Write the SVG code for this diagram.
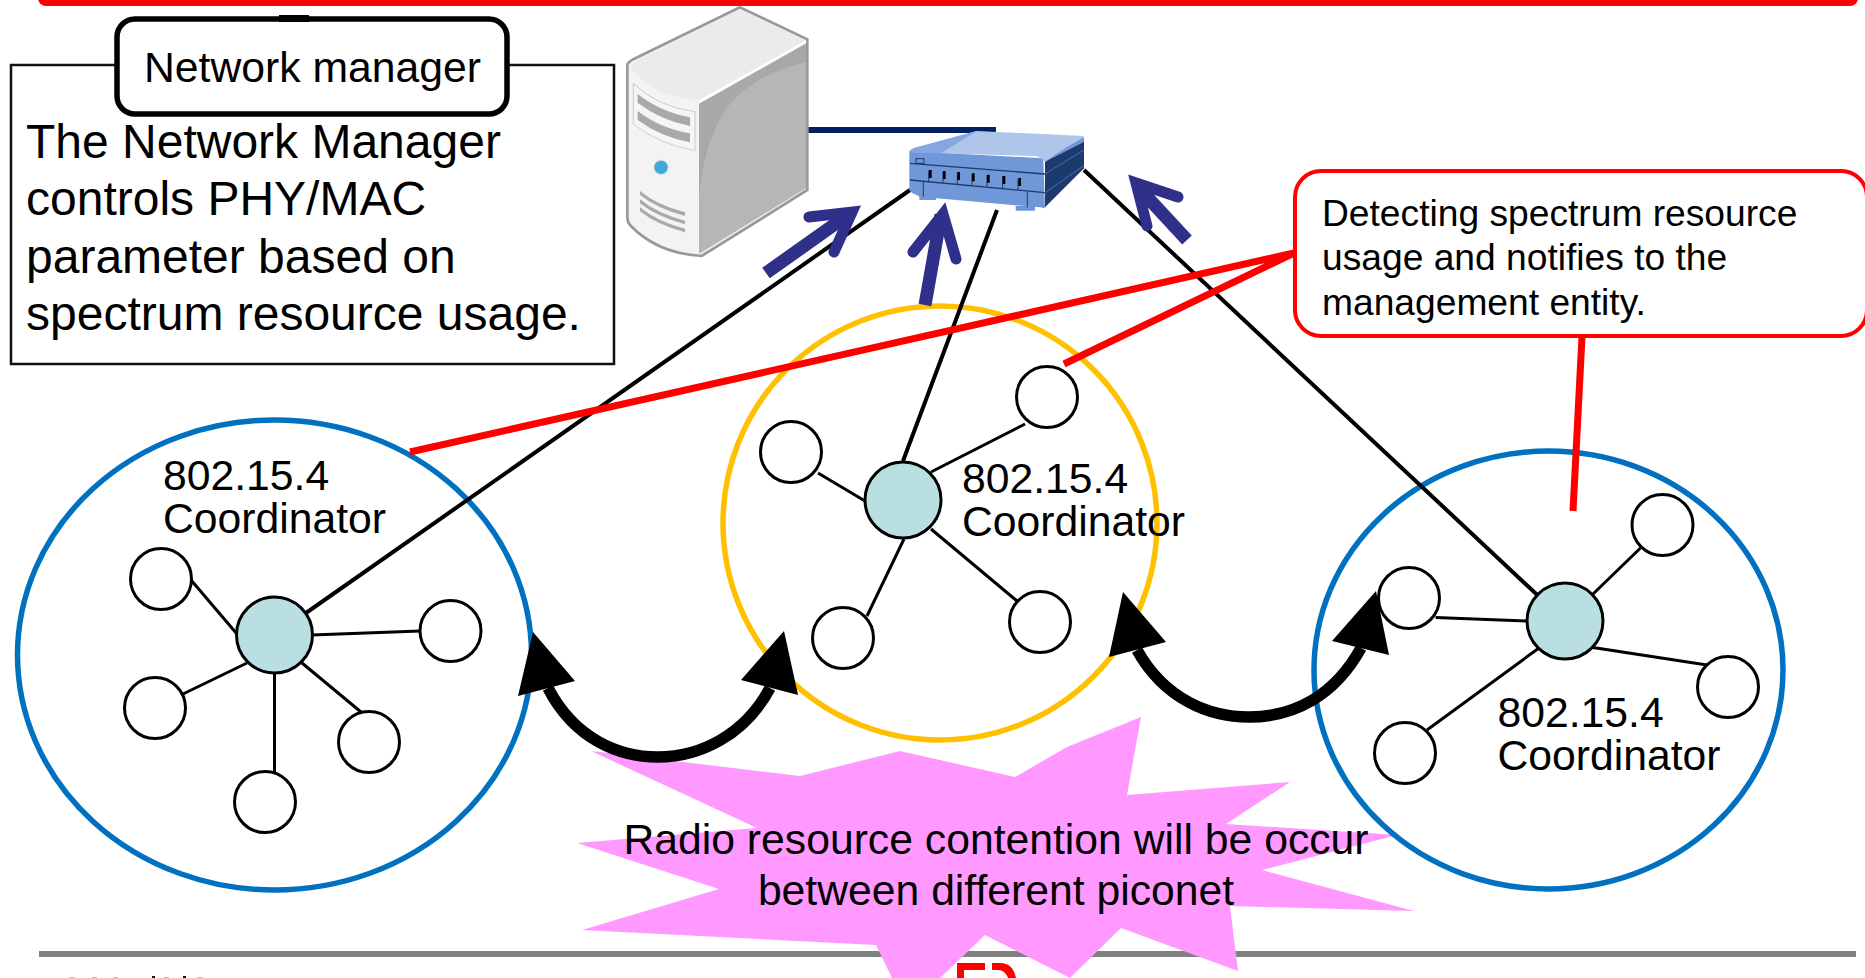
<svg xmlns="http://www.w3.org/2000/svg" width="1865" height="978" viewBox="0 0 1865 978">
<defs>
<style>
text{font-family:"Liberation Sans",Arial,sans-serif;fill:#000}
.coord{font-size:42.7px}
.cov{fill:none;stroke-width:5.500}
.leaf{fill:#fff;stroke:#000;stroke-width:3}
.hub{fill:#b9dfe2;stroke:#000;stroke-width:3}
.link{stroke:#000;stroke-width:3;fill:none}
.uplink{stroke:#000;stroke-width:4;fill:none}
.red{stroke:#f00;stroke-width:7;fill:none}
.shaft{stroke:#2e3089;stroke-width:13;fill:none}
.barb{stroke:#2e3089;stroke-width:11;fill:none;stroke-linecap:round;stroke-linejoin:miter}
.curve{stroke:#000;stroke-width:11.500;fill:none}
.head{fill:#000}
</style>
</defs>
<rect width="1865" height="978" fill="#fff"/>
<g id="frame">
<rect x="41" y="-30" width="1814" height="33" rx="5" fill="none" stroke="#f00" stroke-width="6"/>
<rect x="39" y="951" width="1817" height="6" fill="#808080"/>
<path d="M70 977h5v1h-5zM92 977h5v1h-5zM113 977h5v1h-5zM164 977h5v1h-5zM198 977h5v1h-5z" fill="#bbb"/>
<path d="M152 976h3v2h-3zM183 976h3v2h-3z" fill="#111"/>
<path d="M957 978V963H985V970H964V978ZM992 963H1000Q1013 963 1016 978H1008Q1005 970 998 970H992Z" fill="#f00"/>
</g>
<g id="contention">
<polygon points="591,751 800,776 900,751 1015,777 1067,747 1141,717 1127,795 1290,782 1226,824 1397,835 1262,870 1414,911 1230,906 1238,971 1121,928 1070,978 985,935 940,978 892,978 876,945 582,930 719,889 577,843 757,828" fill="#ff99ff"/>
<text x="996" y="854" font-size="42.7" text-anchor="middle">Radio resource contention will be occur</text>
<text x="996" y="905" font-size="42.7" text-anchor="middle">between different piconet</text>
</g>
<g id="network-manager">
<rect x="11" y="65" width="603" height="299" fill="#fff" stroke="#111" stroke-width="2.500"/>
<rect x="117" y="19" width="390" height="95" rx="18" fill="#fff" stroke="#000" stroke-width="5.500"/>
<rect x="279" y="15" width="30" height="7" fill="#000"/>
<text x="144" y="82" font-size="42.7">Network manager</text>
<text x="26" y="158" font-size="48">The Network Manager</text>
<text x="26" y="215" font-size="48">controls PHY/MAC</text>
<text x="26" y="273" font-size="48">parameter based on</text>
<text x="26" y="330" font-size="48">spectrum resource usage.</text>
</g>
<g id="coverage">
<ellipse class="cov" cx="274.500" cy="655" rx="257" ry="235" stroke="#0070c0"/>
<ellipse class="cov" cx="940" cy="523" rx="217" ry="217" stroke="#ffc000"/>
<ellipse class="cov" cx="1548.500" cy="670" rx="234.500" ry="219" stroke="#0070c0"/>
</g>
<g id="connectors">
<path class="uplink" d="M274.500 635 910 190M903 461 997 210M1565 621 1084 170"/>
<path class="link" d="M191 580 237 634M183 694 247 663M312 635 420 631M302 663 361 712M274.500 673V773"/>
<path class="link" d="M818 473 865 501M1025 424 931 472M867 616 904 539M1017 601 931 529"/>
<path class="link" d="M1640.500 548 1593 594M1435.600 617.500 1527 621M1427 730 1539 648M1707 665 1593 647.600"/>
<path d="M808 130H996" stroke="#002060" stroke-width="6" fill="none"/>
<path class="red" d="M410 452 1294 253 1064 364M1582 337 1573 511"/>
<path class="shaft" d="M766 273 845 217M925 305 941 215M1187 240 1137 186"/>
<path class="barb" d="M809 217 852 212 834 252M913 252 943 214 956 259M1178 197 1136 183 1147 226"/>
<path class="curve" d="M548 688C575 740 620 757 658 757C700 757 745 735 770 688"/>
<polygon class="head" points="533,632 518,696 575,681"/>
<polygon class="head" points="784,631 741,680 798,695"/>
<path class="curve" d="M1137 650C1165 700 1210 717 1249 717C1295 717 1335 695 1361 648"/>
<polygon class="head" points="1123,592 1109,657 1166,642"/>
<polygon class="head" points="1376,591 1332,641 1389,655"/>
</g>
<g id="left-piconet">
<circle class="leaf" cx="161" cy="579" r="30.500"/><circle class="leaf" cx="155" cy="708" r="30.500"/><circle class="leaf" cx="450.500" cy="631" r="30.500"/><circle class="leaf" cx="369" cy="742" r="30.500"/><circle class="leaf" cx="265" cy="802" r="30.500"/>
<circle class="hub" cx="274.500" cy="635" r="38"/>
<text class="coord" x="163" y="490">802.15.4</text><text class="coord" x="163" y="533">Coordinator</text>
</g>
<g id="middle-piconet">
<circle class="leaf" cx="791" cy="452" r="30.500"/><circle class="leaf" cx="1047" cy="397" r="30.500"/><circle class="leaf" cx="843" cy="638" r="30.500"/><circle class="leaf" cx="1040" cy="622" r="30.500"/>
<circle class="hub" cx="903" cy="500" r="38"/>
<text class="coord" x="962" y="493">802.15.4</text><text class="coord" x="962" y="536">Coordinator</text>
</g>
<g id="right-piconet">
<circle class="leaf" cx="1662.500" cy="525" r="30.500"/><circle class="leaf" cx="1409" cy="598" r="30.500"/><circle class="leaf" cx="1405" cy="753" r="30.500"/><circle class="leaf" cx="1728" cy="687" r="30.500"/>
<circle class="hub" cx="1565" cy="621" r="38"/>
<text class="coord" x="1497.500" y="727">802.15.4</text><text class="coord" x="1497.500" y="770">Coordinator</text>
</g>
<g id="callout">
<rect x="1295" y="171" width="572" height="165" rx="26" fill="#fff" stroke="#f00" stroke-width="4"/>
<text x="1322" y="225.500" font-size="37.2">Detecting spectrum resource</text>
<text x="1322" y="270" font-size="37.2">usage and notifies to the</text>
<text x="1322" y="314.500" font-size="37.2">management entity.</text>
</g>
<g id="server" transform="translate(600 0) scale(.33333)">
<path d="M420 22L622 118V570L305 768Q170 760 90 675Q82 665 82 650V195Q85 185 100 178Z" fill="#f3f3f3" stroke="#999" stroke-width="8"/>
<path d="M420 28L618 122L297 300Q150 290 95 205Q90 195 105 185Z" fill="#ebebeb"/>
<path d="M297 312L618 130V565L297 762Z" fill="#b6b6b5"/>
<path d="M297 312L618 132V185Q440 230 370 340Q310 440 297 590Z" fill="#a9a8a6"/>
<path d="M618 125L297 305" stroke="#fff" stroke-width="7" fill="none"/>
<path d="M100 250Q170 320 285 335V452Q170 430 100 372Z" fill="#f5f5f5" stroke="#ccc" stroke-width="3"/>
<path d="M113 282Q180 335 270 352V378Q180 360 113 308ZM113 333Q180 385 270 400V427Q180 410 113 360ZM120 573Q170 615 255 637V648Q170 625 120 585ZM120 598Q170 640 255 662V673Q170 650 120 610ZM120 622Q170 664 255 686V697Q170 674 120 634Z" fill="#a9a9a9"/>
<circle cx="183" cy="502" r="23" fill="#dcdcdc"/>
<circle cx="183" cy="502" r="20" fill="#3fa9d9"/>
</g>
<g id="switch" transform="translate(600 0) scale(.33333)">
<path d="M958 588h50v12h-50zM1247 618h58v14h-58z" fill="#6f96d6"/>
<path d="M928 452L1020 458 1330 475 1335 625 1320 622 960 590 935 578 928 570Z" fill="#7098d8"/>
<path d="M928 455Q930 448 945 443L1130 393 1450 408 1452 425 1335 485Q1320 468 1300 468L1020 460Z" fill="#afc5ea"/>
<path d="M928 458Q930 448 945 443L1130 393 1030 455 1020 460Z" fill="#85a6e0"/>
<path d="M1335 485Q1400 440 1452 412V425Z" fill="#7098d8"/>
<path d="M1335 485L1452 425V505L1335 622Z" fill="#1c3a6e"/>
<g stroke="#1c3a6e" fill="none" stroke-width="3">
<path d="M930 490L1335 522M930 540L1335 578" stroke-width="4"/>
<path d="M1335 522L1452 450M1335 578L1452 497" stroke="#4a6ca5"/>
<path d="M970 545V590M1282 575V622M986 512V545M1029 515V548M1072 518V552M1116 522V556M1161 526V560M1208 530V565M1254 536V570"/>
<rect x="948" y="476" width="24" height="14"/>
</g>
<path d="M987 510h8v24h-8zM1029 513h8v24h-8zM1072 516h8v24h-8zM1116 520h8v24h-8zM1161 524h8v24h-8zM1208 528h8v24h-8zM1255 534h8v24h-8z" fill="#000"/>
</g>
</svg>
